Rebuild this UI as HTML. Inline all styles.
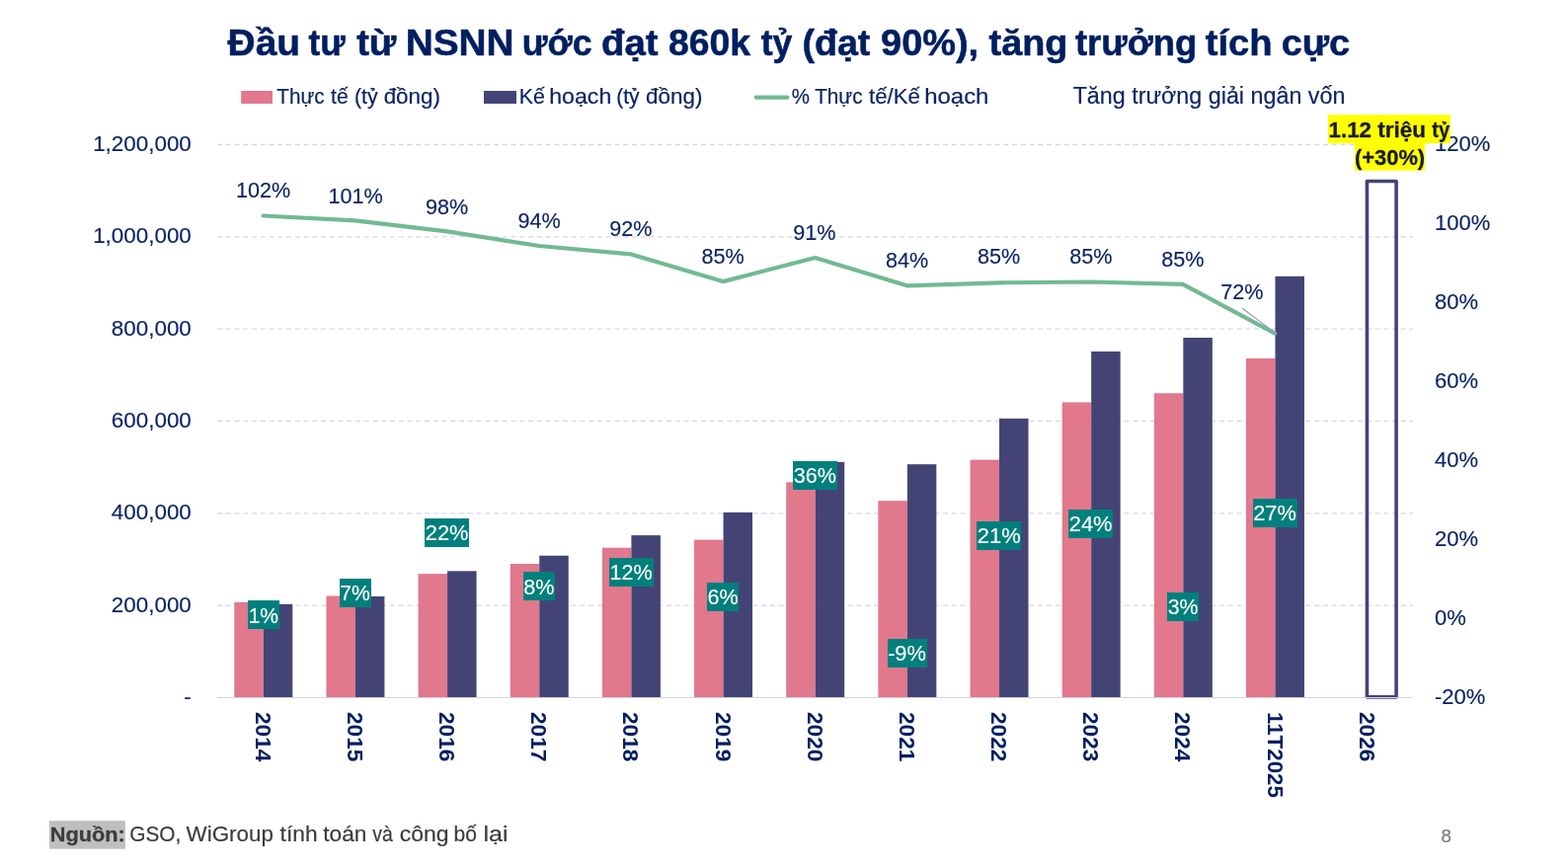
<!DOCTYPE html>
<html lang="vi"><head><meta charset="utf-8"><title>Đầu tư từ NSNN</title>
<style>html,body{margin:0;padding:0;background:#fff;}body{width:1588px;height:878px;overflow:hidden;}svg{display:block;font-family:"Liberation Sans", sans-serif;}</style>
</head><body>
<svg width="1588" height="878" viewBox="0 0 1588 878">
<rect x="0" y="0" width="1588" height="878" fill="#ffffff"/>
<g id="title">
<text y="56.20" font-size="37.6" font-weight="bold" stroke="#001f60" stroke-width="0.55" stroke-linejoin="round" fill="#001f60"><tspan x="230.60" textLength="73.36" lengthAdjust="spacingAndGlyphs">Đầu</tspan> <tspan x="312.55" textLength="37.12" lengthAdjust="spacingAndGlyphs">tư</tspan> <tspan x="361.22" textLength="40.15" lengthAdjust="spacingAndGlyphs">từ</tspan> <tspan x="410.68" textLength="109.93" lengthAdjust="spacingAndGlyphs">NSNN</tspan> <tspan x="528.66" textLength="70.87" lengthAdjust="spacingAndGlyphs">ước</tspan> <tspan x="609.07" textLength="57.54" lengthAdjust="spacingAndGlyphs">đạt</tspan> <tspan x="676.98" textLength="83.08" lengthAdjust="spacingAndGlyphs">860k</tspan> <tspan x="770.64" textLength="31.70" lengthAdjust="spacingAndGlyphs">tỷ</tspan> <tspan x="812.41" textLength="69.00" lengthAdjust="spacingAndGlyphs">(đạt</tspan> <tspan x="892.06" textLength="99.02" lengthAdjust="spacingAndGlyphs">90%),</tspan> <tspan x="1001.52" textLength="79.97" lengthAdjust="spacingAndGlyphs">tăng</tspan> <tspan x="1088.93" textLength="123.47" lengthAdjust="spacingAndGlyphs">trưởng</tspan> <tspan x="1220.72" textLength="67.91" lengthAdjust="spacingAndGlyphs">tích</tspan> <tspan x="1297.78" textLength="69.31" lengthAdjust="spacingAndGlyphs">cực</tspan></text>
</g>
<g id="legend">
<rect x="244.2" y="92" width="31.8" height="13" fill="#e1788c"/>
<text y="104.50" font-size="22.2" stroke="#0a2463" stroke-width="0.2" stroke-linejoin="round" fill="#0a2463"><tspan x="280.34" textLength="48.23" lengthAdjust="spacingAndGlyphs">Thực</tspan> <tspan x="335.03" textLength="17.65" lengthAdjust="spacingAndGlyphs">tế</tspan> <tspan x="358.97" textLength="23.78" lengthAdjust="spacingAndGlyphs">(tỷ</tspan> <tspan x="388.65" textLength="57.30" lengthAdjust="spacingAndGlyphs">đồng)</tspan></text>
<rect x="490" y="92" width="33" height="13" fill="#434475"/>
<text y="104.50" font-size="22.2" stroke="#0a2463" stroke-width="0.2" stroke-linejoin="round" fill="#0a2463"><tspan x="525.84" textLength="26.15" lengthAdjust="spacingAndGlyphs">Kế</tspan> <tspan x="556.25" textLength="63.02" lengthAdjust="spacingAndGlyphs">hoạch</tspan> <tspan x="624.18" textLength="23.47" lengthAdjust="spacingAndGlyphs">(tỷ</tspan> <tspan x="654.05" textLength="57.30" lengthAdjust="spacingAndGlyphs">đồng)</tspan></text>
<line x1="765.8" y1="98.7" x2="797.4" y2="98.7" stroke="#72b993" stroke-width="4.2" stroke-linecap="round"/>
<text y="104.50" font-size="22.2" stroke="#0a2463" stroke-width="0.2" stroke-linejoin="round" fill="#0a2463"><tspan x="801.83" textLength="18.22" lengthAdjust="spacingAndGlyphs">%</tspan> <tspan x="825.24" textLength="48.33" lengthAdjust="spacingAndGlyphs">Thực</tspan> <tspan x="880.02" textLength="51.98" lengthAdjust="spacingAndGlyphs">tế/Kế</tspan> <tspan x="936.19" textLength="65.22" lengthAdjust="spacingAndGlyphs">hoạch</tspan></text>
<text transform="matrix(1.0007 0 0 1.0000 1086.63 105.20)" font-size="23.3" stroke="#0a2463" stroke-width="0.15" stroke-linejoin="round" fill="#0a2463">Tăng trưởng giải ngân vốn</text>
</g>
<g id="grid" stroke="#d6d8e7" stroke-width="1.3" stroke-dasharray="5 3.75">
<line x1="220" y1="146.50" x2="1431" y2="146.50"/>
<line x1="220" y1="239.83" x2="1431" y2="239.83"/>
<line x1="220" y1="333.17" x2="1431" y2="333.17"/>
<line x1="220" y1="426.50" x2="1431" y2="426.50"/>
<line x1="220" y1="519.83" x2="1431" y2="519.83"/>
<line x1="220" y1="613.17" x2="1431" y2="613.17"/>
</g>
<g id="yaxis-left" font-size="22.4" fill="#0a2463" stroke="#0a2463" stroke-width="0.15" text-anchor="end">
<text x="193.8" y="152.9">1,200,000</text>
<text x="193.8" y="246.2">1,000,000</text>
<text x="193.8" y="339.6">800,000</text>
<text x="193.8" y="432.9">600,000</text>
<text x="193.8" y="526.2">400,000</text>
<text x="193.8" y="619.6">200,000</text>
<text x="193.8" y="712.9">-</text>
</g>
<g id="yaxis-right" font-size="22" fill="#0a2463" stroke="#0a2463" stroke-width="0.15">
<text x="1453" y="152.6">120%</text>
<text x="1453" y="232.6">100%</text>
<text x="1453" y="312.6">80%</text>
<text x="1453" y="392.6">60%</text>
<text x="1453" y="472.6">40%</text>
<text x="1453" y="552.6">20%</text>
<text x="1453" y="632.6">0%</text>
<text x="1453" y="712.6">-20%</text>
</g>
<g id="bars">
<rect x="237.28" y="609.80" width="29.50" height="96.20" fill="#e1788c"/>
<rect x="266.78" y="611.80" width="29.50" height="94.20" fill="#434475"/>
<rect x="330.43" y="603.50" width="29.50" height="102.50" fill="#e1788c"/>
<rect x="359.93" y="604.00" width="29.50" height="102.00" fill="#434475"/>
<rect x="423.58" y="581.10" width="29.50" height="124.90" fill="#e1788c"/>
<rect x="453.08" y="578.30" width="29.50" height="127.70" fill="#434475"/>
<rect x="516.74" y="571.00" width="29.50" height="135.00" fill="#e1788c"/>
<rect x="546.24" y="562.70" width="29.50" height="143.30" fill="#434475"/>
<rect x="609.89" y="554.70" width="29.50" height="151.30" fill="#e1788c"/>
<rect x="639.39" y="542.10" width="29.50" height="163.90" fill="#434475"/>
<rect x="703.05" y="546.60" width="29.50" height="159.40" fill="#e1788c"/>
<rect x="732.55" y="518.90" width="29.50" height="187.10" fill="#434475"/>
<rect x="796.20" y="488.30" width="29.50" height="217.70" fill="#e1788c"/>
<rect x="825.70" y="467.90" width="29.50" height="238.10" fill="#434475"/>
<rect x="889.35" y="507.20" width="29.50" height="198.80" fill="#e1788c"/>
<rect x="918.85" y="470.20" width="29.50" height="235.80" fill="#434475"/>
<rect x="982.51" y="465.60" width="29.50" height="240.40" fill="#e1788c"/>
<rect x="1012.01" y="423.80" width="29.50" height="282.20" fill="#434475"/>
<rect x="1075.66" y="407.40" width="29.50" height="298.60" fill="#e1788c"/>
<rect x="1105.16" y="355.90" width="29.50" height="350.10" fill="#434475"/>
<rect x="1168.82" y="398.20" width="29.50" height="307.80" fill="#e1788c"/>
<rect x="1198.32" y="342.00" width="29.50" height="364.00" fill="#434475"/>
<rect x="1261.97" y="362.90" width="29.50" height="343.10" fill="#e1788c"/>
<rect x="1291.47" y="279.80" width="29.50" height="426.20" fill="#434475"/>
<rect x="1384.45" y="183.5" width="29.65" height="522.40" fill="none" stroke="#434475" stroke-width="3.6" stroke-linejoin="round"/>
</g>
<line x1="220" y1="706.5" x2="1431" y2="706.5" stroke="#d3d3e8" stroke-width="1.1"/>
<polyline points="266.5,218.5 359.6,223.3 452.8,234.4 545.9,249.0 639.1,257.4 732.2,285.1 825.4,261.0 918.6,289.3 1011.7,286.3 1104.9,285.5 1198.0,287.9 1291.2,337.6" fill="none" stroke="#72b993" stroke-width="4.2" stroke-linejoin="round" stroke-linecap="round"/>
<line x1="1258.1" y1="312.3" x2="1291.5" y2="337" stroke="#9696cc" stroke-width="1.15"/>
<g id="line-labels" font-size="21.6" fill="#0a2463" stroke="#0a2463" stroke-width="0.15" text-anchor="middle">
<text x="266.7" y="200.3">102%</text>
<text x="360.0" y="206.1">101%</text>
<text x="452.5" y="217.2">98%</text>
<text x="546.0" y="231.0">94%</text>
<text x="638.8" y="239.1">92%</text>
<text x="732.1" y="266.5">85%</text>
<text x="824.9" y="242.9">91%</text>
<text x="918.7" y="270.8">84%</text>
<text x="1011.6" y="267.2">85%</text>
<text x="1104.9" y="267.2">85%</text>
<text x="1197.9" y="270.2">85%</text>
<text x="1257.8" y="303.0">72%</text>
</g>
<g id="growth-labels">
<rect x="251" y="608" width="32" height="29" fill="#00807d"/>
<text transform="matrix(0.9613 0 0 1.0000 251.63 631.20)" font-size="21.8" stroke="#ffffff" stroke-width="0.15" stroke-linejoin="round" fill="#ffffff">1%</text>
<rect x="344" y="586" width="32" height="29" fill="#00807d"/>
<text transform="matrix(0.9706 0 0 1.0000 344.24 608.00)" font-size="21.8" stroke="#ffffff" stroke-width="0.15" stroke-linejoin="round" fill="#ffffff">7%</text>
<rect x="430" y="525" width="45" height="29" fill="#00807d"/>
<text transform="matrix(1.0025 0 0 1.0000 430.81 547.10)" font-size="21.8" stroke="#ffffff" stroke-width="0.15" stroke-linejoin="round" fill="#ffffff">22%</text>
<rect x="530" y="579" width="32" height="29" fill="#00807d"/>
<text transform="matrix(0.9903 0 0 1.0000 530.34 602.20)" font-size="21.8" stroke="#ffffff" stroke-width="0.15" stroke-linejoin="round" fill="#ffffff">8%</text>
<rect x="617" y="565" width="45" height="29" fill="#00807d"/>
<text transform="matrix(0.9890 0 0 1.0000 617.58 587.10)" font-size="21.8" stroke="#ffffff" stroke-width="0.15" stroke-linejoin="round" fill="#ffffff">12%</text>
<rect x="716" y="590" width="32" height="29" fill="#00807d"/>
<text transform="matrix(0.9908 0 0 1.0000 716.42 612.10)" font-size="21.8" stroke="#ffffff" stroke-width="0.15" stroke-linejoin="round" fill="#ffffff">6%</text>
<rect x="803" y="467" width="45" height="29" fill="#00807d"/>
<text transform="matrix(0.9899 0 0 1.0000 803.84 489.10)" font-size="21.8" stroke="#ffffff" stroke-width="0.15" stroke-linejoin="round" fill="#ffffff">36%</text>
<rect x="899" y="647" width="40" height="29" fill="#00807d"/>
<text transform="matrix(0.9986 0 0 1.0000 899.13 669.10)" font-size="21.8" stroke="#ffffff" stroke-width="0.15" stroke-linejoin="round" fill="#ffffff">-9%</text>
<rect x="989" y="528" width="45" height="29" fill="#00807d"/>
<text transform="matrix(1.0049 0 0 1.0000 989.80 550.10)" font-size="21.8" stroke="#ffffff" stroke-width="0.15" stroke-linejoin="round" fill="#ffffff">21%</text>
<rect x="1082" y="516" width="45" height="29" fill="#00807d"/>
<text transform="matrix(1.0049 0 0 1.0000 1082.70 538.10)" font-size="21.8" stroke="#ffffff" stroke-width="0.15" stroke-linejoin="round" fill="#ffffff">24%</text>
<rect x="1182" y="600" width="32" height="29" fill="#00807d"/>
<text transform="matrix(0.9767 0 0 1.0000 1182.75 622.10)" font-size="21.8" stroke="#ffffff" stroke-width="0.15" stroke-linejoin="round" fill="#ffffff">3%</text>
<rect x="1269" y="505" width="45" height="29" fill="#00807d"/>
<text transform="matrix(1.0001 0 0 1.0000 1269.21 527.10)" font-size="21.8" stroke="#ffffff" stroke-width="0.15" stroke-linejoin="round" fill="#ffffff">27%</text>
</g>
<g id="categories" font-size="22.7" font-weight="bold" fill="#001f60">
<text transform="translate(258.8,721) rotate(90)">2014</text>
<text transform="translate(351.9,721) rotate(90)">2015</text>
<text transform="translate(445.1,721) rotate(90)">2016</text>
<text transform="translate(538.2,721) rotate(90)">2017</text>
<text transform="translate(631.4,721) rotate(90)">2018</text>
<text transform="translate(724.5,721) rotate(90)">2019</text>
<text transform="translate(817.7,721) rotate(90)">2020</text>
<text transform="translate(910.9,721) rotate(90)">2021</text>
<text transform="translate(1004.0,721) rotate(90)">2022</text>
<text transform="translate(1097.2,721) rotate(90)">2023</text>
<text transform="translate(1190.3,721) rotate(90)">2024</text>
<text transform="translate(1283.5,721) rotate(90) scale(0.985,1)">11T2025</text>
<text transform="translate(1376.6,721) rotate(90)">2026</text>
</g>
<g id="annotation">
<rect x="1345" y="116.2" width="123.9" height="29" fill="#ffff00"/>
<rect x="1372" y="145" width="70.9" height="27.7" fill="#ffff00"/>
<text y="138.70" font-size="21.2" font-weight="bold" stroke="#1a1a2e" stroke-width="0.3" stroke-linejoin="round" fill="#1a1a2e"><tspan x="1345.51" textLength="43.55" lengthAdjust="spacingAndGlyphs">1.12</tspan> <tspan x="1395.33" textLength="48.70" lengthAdjust="spacingAndGlyphs">triệu</tspan> <tspan x="1450.15" textLength="18.03" lengthAdjust="spacingAndGlyphs">tỷ</tspan></text>
<text transform="matrix(1.0335 0 0 1.0000 1371.96 166.50)" font-size="21.2" font-weight="bold" stroke="#1a1a2e" stroke-width="0.3" stroke-linejoin="round" fill="#1a1a2e">(+30%)</text>
</g>
<g id="footer">
<rect x="50" y="831.2" width="76.9" height="28.5" fill="#bfbfbf"/>
<text transform="matrix(1.0449 0 0 1.0000 50.69 851.80)" font-size="20.8" font-weight="bold" stroke="#3c3c3c" stroke-width="0.3" stroke-linejoin="round" fill="#3c3c3c">Nguồn:</text>
<text y="851.80" font-size="21.5" stroke="#3c3c3c" stroke-width="0.2" stroke-linejoin="round" fill="#3c3c3c"><tspan x="131.21" textLength="52.07" lengthAdjust="spacingAndGlyphs">GSO,</tspan> <tspan x="188.55" textLength="88.32" lengthAdjust="spacingAndGlyphs">WiGroup</tspan> <tspan x="283.61" textLength="37.93" lengthAdjust="spacingAndGlyphs">tính</tspan> <tspan x="327.31" textLength="44.13" lengthAdjust="spacingAndGlyphs">toán</tspan> <tspan x="377.35" textLength="20.53" lengthAdjust="spacingAndGlyphs">và</tspan> <tspan x="404.73" textLength="49.82" lengthAdjust="spacingAndGlyphs">công</tspan> <tspan x="459.59" textLength="23.40" lengthAdjust="spacingAndGlyphs">bố</tspan> <tspan x="489.42" textLength="25.12" lengthAdjust="spacingAndGlyphs">lại</tspan></text>
<text transform="matrix(1.0526 0 0 1.0000 1459.55 852.90)" font-size="17.8" stroke="#7f7f7f" stroke-width="0.25" stroke-linejoin="round" fill="#7f7f7f">8</text>
</g>
</svg>
</body></html>
